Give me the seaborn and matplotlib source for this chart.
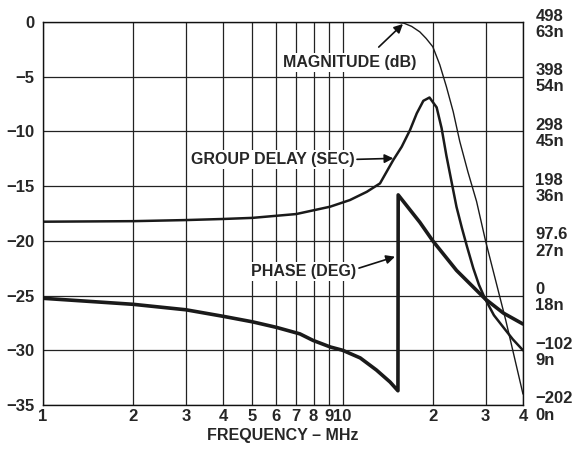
import numpy as np
import pandas as pd
import matplotlib.pyplot as plt
import seaborn as sns

# values (left axis units, dB scale)
mag_f = [1, 5, 10, 14, 15, 16, 17, 18.1, 19, 20, 21.1, 22.2, 23.4, 24.6, 26.2, 28, 30, 35, 40]
mag_db = [0, 0, 0, 0, -0.02, -0.1, -0.4, -0.9, -1.5, -2.26, -3.9, -5.9, -8.2, -10.9, -13.7, -16.4, -20.0, -27.2, -34.0]

gd_f = [1, 2, 3, 4, 5, 7, 9.08, 10.58, 12.04, 13.33, 14.77, 15.75, 16.79, 17.68, 18.6, 19.5,
        20.6, 21.4, 22.2, 23.1, 24, 25, 26, 27.3, 28.5, 29.9, 32, 34.4, 37, 40]
gd_val = [-18.25, -18.2, -18.1, -18.0, -17.9, -17.55, -16.88, -16.27, -15.52, -14.75, -12.6, -11.4, -9.87, -8.35, -7.2, -6.9,
          -7.8, -9.7, -12.2, -14.6, -16.9, -18.8, -20.5, -22.5, -24.0, -25.3, -26.8, -27.9, -29.0, -30.0]

ph_f = [1, 2, 3, 4, 5, 6, 7.2, 7.97, 9.1, 10, 11.45, 12.96, 14.4, 15.3, 15.33, 18.1, 20, 24, 29.9, 34.4, 40]
ph_val = [-25.25, -25.8, -26.3, -26.9, -27.4, -27.9, -28.5, -29.1, -29.7, -30.0, -30.7, -31.8, -32.9, -33.7, -15.8, -18.3, -20.0, -22.7, -25.3, -26.6, -27.6]

x_ticks = [1, 2, 3, 4, 5, 6, 7, 8, 9, 10, 20, 30, 40]
x_labels = ['1', '2', '3', '4', '5', '6', '7', '8', '9', '10', '2', '3', '4']
y_ticks = [0, -5, -10, -15, -20, -25, -30, -35]
y_labels = ['0', '\u22125', '\u221210', '\u221215', '\u221220', '\u221225', '\u221230', '\u221235']
right_labels = ['498\n63n', '398\n54n', '298\n45n', '198\n36n', '97.6\n27n', '0\n18n', '\u2212102\n9n', '\u2212202\n0n']

mag = pd.DataFrame({'f': mag_f, 'v': mag_db})
gd = pd.DataFrame({'f': gd_f, 'v': gd_val})
ph = pd.DataFrame({'f': ph_f, 'v': ph_val})

sns.set_style('white')
plt.rcParams['font.family'] = ['Liberation Sans', 'DejaVu Sans']
plt.rcParams['font.weight'] = 'bold'

fig = plt.figure(figsize=(5.72, 4.53), dpi=100)
ax = fig.add_axes([0.0752, 0.106, 0.8391, 0.8454])
ax.set_xscale('log')

sns.lineplot(x='f', y='v', data=mag, ax=ax, color='#1a1a1a', linewidth=1.0, sort=False)
sns.lineplot(x='f', y='v', data=gd, ax=ax, color='#1a1a1a', linewidth=1.8, sort=False)
sns.lineplot(x='f', y='v', data=ph, ax=ax, color='#1a1a1a', linewidth=2.6, sort=False)

ax.set_xlim(1, 40)
ax.set_ylim(-35, 0)
ax.set_xticks(x_ticks)
ax.set_xticklabels(x_labels)
ax.xaxis.set_minor_locator(plt.NullLocator())
ax.set_yticks(y_ticks)
ax.set_yticklabels(y_labels)
ax.tick_params(axis='both', length=0, labelsize=12)
ax.tick_params(axis='x', pad=3)
ax.tick_params(axis='y', pad=6)
for lab in ax.get_xticklabels() + ax.get_yticklabels():
    lab.set_fontweight('bold')
ax.grid(True, which='major', color='#222222', linewidth=0.9)
for s in ax.spines.values():
    s.set_color('#111111')
    s.set_linewidth(1.0)
ax.set_xlabel('FREQUENCY \u2013 MHz', fontsize=11.5, fontweight='bold', labelpad=3)
ax.set_ylabel('')

# right axis with the phase / delay scales
ax2 = ax.twinx()
ax2.set_ylim(-35, 0)
ax2.set_yticks(y_ticks)
ax2.set_yticklabels(right_labels, fontsize=12, fontweight='bold', linespacing=1.1)
ax2.tick_params(axis='y', length=0, pad=9)
for s in ax2.spines.values():
    s.set_visible(False)

# labels with arrows
box = dict(facecolor='white', edgecolor='none', pad=1.5)
ax.text(10.55, -3.7, 'MAGNITUDE (dB)', ha='center', va='center', fontsize=11.5, fontweight='bold', bbox=box)
ax.text(5.83, -12.55, 'GROUP DELAY (SEC)', ha='center', va='center', fontsize=11.5, fontweight='bold', bbox=box)
ax.text(7.43, -22.82, 'PHASE (DEG)', ha='center', va='center', fontsize=11.5, fontweight='bold', bbox=box)

arrow = dict(arrowstyle='-|>', color='#111111', lw=1.2, mutation_scale=13, shrinkA=0, shrinkB=0)
ax.annotate('', xy=(15.9, -0.18), xytext=(13.2, -2.29), arrowprops=arrow)
ax.annotate('', xy=(14.77, -12.46), xytext=(11.17, -12.55), arrowprops=arrow)
ax.annotate('', xy=(14.96, -21.45), xytext=(11.34, -22.49), arrowprops=arrow)

plt.savefig('out.png', dpi=100)
